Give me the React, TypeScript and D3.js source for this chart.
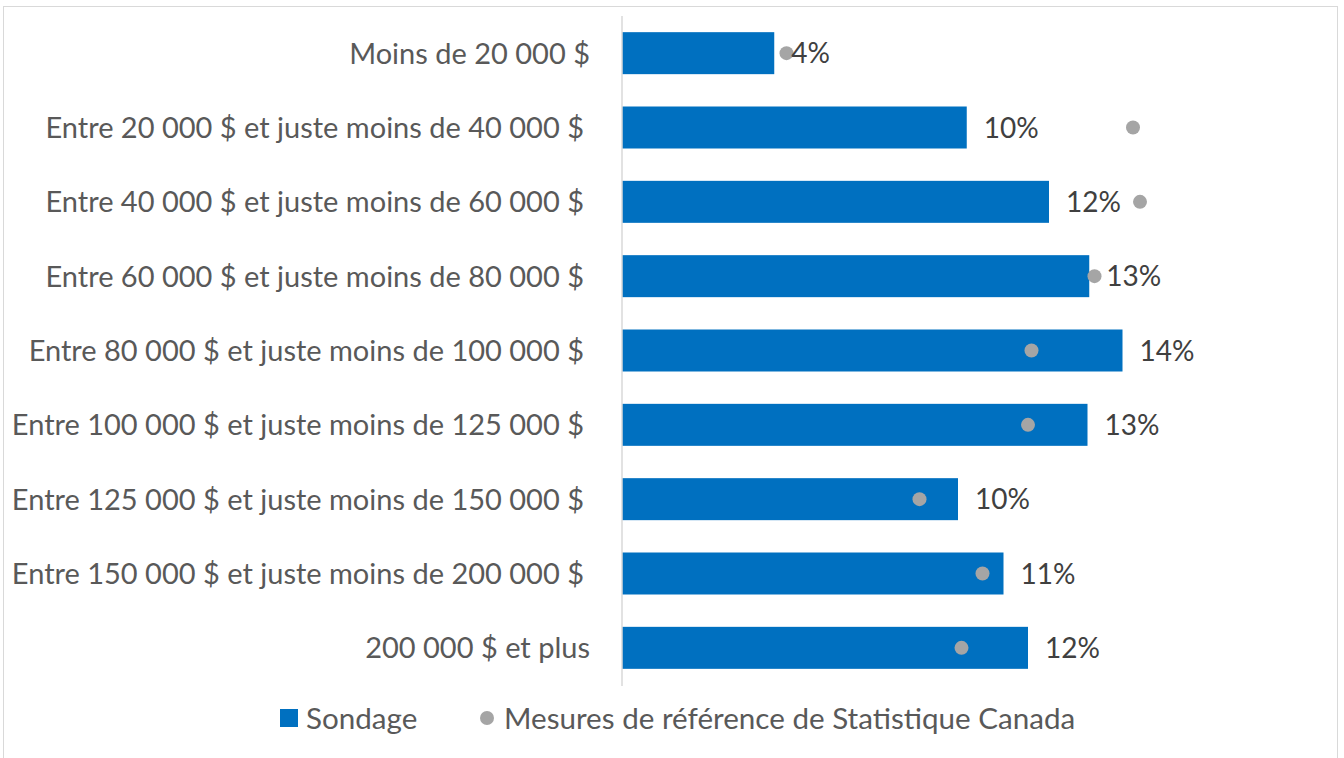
import React, { useEffect, useRef } from 'react'
import * as d3 from 'd3'

const categories = [
  'Moins de 20 000 $',
  'Entre 20 000 $ et juste moins de 40 000 $',
  'Entre 40 000 $ et juste moins de 60 000 $',
  'Entre 60 000 $ et juste moins de 80 000 $',
  'Entre 80 000 $ et juste moins de 100 000 $',
  'Entre 100 000 $ et juste moins de 125 000 $',
  'Entre 125 000 $ et juste moins de 150 000 $',
  'Entre 150 000 $ et juste moins de 200 000 $',
  '200 000 $ et plus',
]
// Sondage (bars), in %
const sondage = [4.35, 9.85, 12.2, 13.35, 14.3, 13.3, 9.6, 10.9, 11.6]
// Mesures de référence de Statistique Canada (dots), in %
const reference = [4.7, 14.6, 14.8, 13.5, 11.7, 11.6, 8.5, 10.3, 9.7]
const seriesNames = ['Sondage', 'Mesures de référence de Statistique Canada']

export default function App() {
  const ref = useRef<SVGSVGElement>(null)

  useEffect(() => {
    const svg = d3.select(ref.current)
    svg.selectAll('*').remove()
    const font = 'Lato, "Open Sans", sans-serif'
    const textColor = '#595959'

    // chart border
    svg.append('rect')
      .attr('x', 3.5).attr('y', 6.5)
      .attr('width', 1334).attr('height', 770)
      .attr('fill', 'white')
      .attr('stroke', '#d9d9d9')

    const x = d3.scaleLinear().domain([0, 20]).range([622, 1322])
    const y = d3.scaleBand()
      .domain(categories)
      .range([16, 685])
      .paddingInner(0.435)
      .paddingOuter(0.2175)

    // bars
    svg.selectAll('rect.bar')
      .data(sondage)
      .enter()
      .append('rect')
      .attr('class', 'bar')
      .attr('x', x(0))
      .attr('y', (d, i) => y(categories[i]))
      .attr('width', d => x(d) - x(0))
      .attr('height', y.bandwidth())
      .attr('fill', '#0070C0')

    // axis line
    svg.append('line')
      .attr('x1', x(0)).attr('x2', x(0))
      .attr('y1', 16).attr('y2', 686)
      .attr('stroke', '#d9d9d9')
      .attr('stroke-width', 1.5)

    // reference dots
    svg.selectAll('circle.ref')
      .data(reference)
      .enter()
      .append('circle')
      .attr('class', 'ref')
      .attr('cx', d => x(d))
      .attr('cy', (d, i) => y(categories[i]) + y.bandwidth() / 2)
      .attr('r', 7)
      .attr('fill', '#A5A5A5')

    // data labels
    const fmt = (v: number) => Math.round(v) + '%'
    svg.selectAll('text.lbl')
      .data(sondage)
      .enter()
      .append('text')
      .attr('class', 'lbl')
      .attr('x', d => x(d) + 17)
      .attr('y', (d, i) => y(categories[i]) + y.bandwidth() / 2)
      .attr('dy', '0.36em')
      .attr('font-family', font)
      .attr('font-size', 28)
      .attr('fill', '#404040')
      .text(d => fmt(d))

    // category labels
    svg.selectAll('text.cat')
      .data(categories)
      .enter()
      .append('text')
      .attr('class', 'cat')
      .attr('x', d => (d.includes('juste') ? 584 : 590))
      .attr('y', d => y(d) + y.bandwidth() / 2)
      .attr('dy', '0.36em')
      .attr('text-anchor', 'end')
      .attr('font-family', font)
      .attr('font-size', 29)
      .attr('fill', textColor)
      .text(d => d)

    // legend
    const ly = 718
    const lfs = 29.6
    svg.append('rect')
      .attr('x', 280).attr('y', ly - 9)
      .attr('width', 18).attr('height', 18)
      .attr('fill', '#0070C0')
    svg.append('text')
      .attr('x', 306).attr('y', ly).attr('dy', '0.36em')
      .attr('font-family', font).attr('font-size', lfs)
      .attr('fill', textColor)
      .text(seriesNames[0])
    svg.append('circle')
      .attr('cx', 487).attr('cy', ly).attr('r', 7)
      .attr('fill', '#A5A5A5')
    svg.append('text')
      .attr('x', 504).attr('y', ly).attr('dy', '0.36em')
      .attr('font-family', font).attr('font-size', lfs)
      .attr('fill', textColor)
      .text(seriesNames[1])
  }, [])

  return (
    <svg
      ref={ref}
      width={1344}
      height={758}
      style={{ position: 'absolute', left: 0, top: 0, background: 'white' }}
    />
  )
}
